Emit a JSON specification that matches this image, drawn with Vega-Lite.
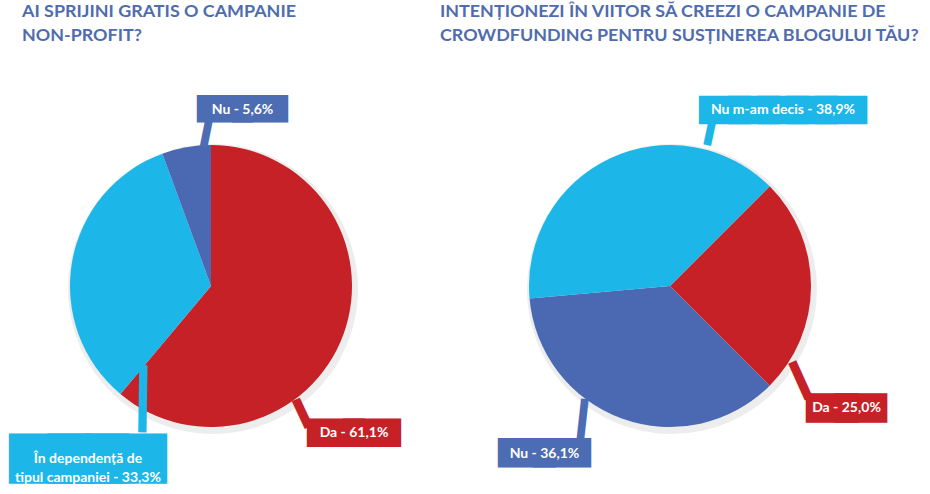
{
  "$schema": "https://vega.github.io/schema/vega-lite/v6.json",
  "background": "white",
  "padding": {"top": 3, "left": 0, "right": 0, "bottom": 0},
  "spacing": 0,
  "config": {"view": {"stroke": null}, "font": "Lato"},
  "resolve": {"scale": {"theta": "independent", "color": "shared"}},
  "hconcat": [
    {
      "width": 422,
      "height": 412,
      "title": {"text": ["AI SPRIJINI GRATIS O CAMPANIE", "NON-PROFIT?"], "anchor": "start", "frame": "group", "dx": 22, "font": "Lato", "fontSize": 17.9, "fontWeight": "bold", "color": "#4F6DAE", "lineHeight": 24, "offset": 35},
      "data": {"values": [
        {"raspuns": "Da", "procent": 61.1, "ord": 1, "eticheta": "Da - 61,1%"},
        {"raspuns": "În dependență de tipul campaniei", "procent": 33.3, "ord": 2, "eticheta": "În dependență de\ntipul campaniei - 33,3%"},
        {"raspuns": "Nu", "procent": 5.6, "ord": 3, "eticheta": "Nu - 5,6%"}
      ]},
      "transform": [{"stack": "procent", "groupby": [], "sort": [{"field": "ord"}], "as": ["v0", "v1"]}],
      "layer": [
        {"mark": {"type": "arc", "outerRadius": 145, "fill": "#000000", "opacity": 0.07, "xOffset": 2, "yOffset": 3},
         "encoding": {"theta": {"field": "v0", "type": "quantitative", "scale": {"domain": [0, 100], "range": [0, 6.2832]}}, "theta2": {"field": "v1"}}},
        {"mark": {"type": "arc", "outerRadius": 141},
         "encoding": {"theta": {"field": "v0", "type": "quantitative", "scale": {"domain": [0, 100], "range": [0, 6.2832]}}, "theta2": {"field": "v1"},
           "color": {"field": "raspuns", "type": "nominal", "legend": null, "scale": {"domain": ["Da", "Nu", "În dependență de tipul campaniei", "Nu m-am decis"], "range": ["#C62127", "#4A69B2", "#1CB6E8", "#1CB6E8"]}}}},
        {"transform": [{"filter": "datum.ord == 3"}],
         "mark": {"type": "text", "text": "—", "font": "DejaVu Sans", "fontSize": 24.6, "strokeWidth": 6.0, "angle": 281.31, "radius": 141, "dx": 28.75, "dy": 38.7, "align": "center", "baseline": "middle", "fill": "#4C6CB4", "stroke": "#4C6CB4", "strokeJoin": "miter"},
         "encoding": {"theta": {"field": "v0", "type": "quantitative"}}},
        {"transform": [{"filter": "datum.ord == 1"}],
         "mark": {"type": "text", "text": "—", "font": "DejaVu Sans", "fontSize": 26.2, "strokeWidth": 6.9, "angle": 64.98, "radius": 141, "dx": 281.8, "dy": 30.0, "align": "center", "baseline": "middle", "fill": "#C62127", "stroke": "#C62127", "strokeJoin": "miter"},
         "encoding": {"theta": {"field": "v0", "type": "quantitative"}}},
        {"transform": [{"filter": "datum.ord == 2"}],
         "mark": {"type": "text", "text": "—", "font": "DejaVu Sans", "fontSize": 70.7, "strokeWidth": 3.3, "angle": 90.77, "radius": 141, "dx": 4.58, "dy": -24.07, "align": "center", "baseline": "middle", "fill": "#1CB6E8", "stroke": "#1CB6E8", "strokeJoin": "miter"},
         "encoding": {"theta": {"field": "v0", "type": "quantitative"}}},
        {"transform": [{"filter": "datum.ord == 3"}],
         "mark": {"type": "text", "text": "——", "font": "DejaVu Sans", "fontSize": 34.9, "strokeWidth": 24.9, "radius": 141, "dx": 80.1, "dy": -45.1, "align": "center", "baseline": "middle", "fill": "#4C6CB4", "stroke": "#4C6CB4", "strokeJoin": "miter"},
         "encoding": {"theta": {"field": "v0", "type": "quantitative"}}},
        {"transform": [{"filter": "datum.ord == 1"}],
         "mark": {"type": "text", "text": "——", "font": "DejaVu Sans", "fontSize": 36.0, "strokeWidth": 25.8, "radius": 141, "dx": 143, "dy": 287, "align": "center", "baseline": "middle", "fill": "#C62127", "stroke": "#C62127", "strokeJoin": "miter"},
         "encoding": {"theta": {"field": "v0", "type": "quantitative"}}},
        {"transform": [{"filter": "datum.ord == 2"}],
         "mark": {"type": "text", "text": "———", "font": "DejaVu Sans", "fontSize": 38.1, "strokeWidth": 47.7, "radius": 141, "dx": -32.5, "dy": 63.9, "align": "center", "baseline": "middle", "fill": "#1CB6E8", "stroke": "#1CB6E8", "strokeJoin": "miter"},
         "encoding": {"theta": {"field": "v0", "type": "quantitative"}}},
        {"transform": [{"filter": "datum.ord == 3"}],
         "mark": {"type": "text", "font": "Lato", "fontSize": 14, "fontWeight": "bold", "color": "white", "radius": 141, "dx": 80.1, "dy": -44.1, "align": "center", "baseline": "middle"},
         "encoding": {"theta": {"field": "v0", "type": "quantitative"}, "text": {"field": "eticheta"}}},
        {"transform": [{"filter": "datum.ord == 1"}],
         "mark": {"type": "text", "font": "Lato", "fontSize": 14, "fontWeight": "bold", "color": "white", "radius": 141, "dx": 143, "dy": 288, "align": "center", "baseline": "middle"},
         "encoding": {"theta": {"field": "v0", "type": "quantitative"}, "text": {"field": "eticheta"}}},
        {"transform": [{"filter": "datum.ord == 2"}],
         "mark": {"type": "text", "font": "Lato", "fontSize": 14, "fontWeight": "bold", "color": "white", "radius": 141, "dx": -32.5, "dy": 65.4, "align": "center", "baseline": "middle", "lineBreak": "\n", "lineHeight": 18.5},
         "encoding": {"theta": {"field": "v0", "type": "quantitative"}, "text": {"field": "eticheta"}}}
      ]
    },
    {
      "width": 496,
      "height": 412,
      "title": {"text": ["INTENȚIONEZI ÎN VIITOR SĂ CREEZI O CAMPANIE DE", "CROWDFUNDING PENTRU SUSȚINEREA BLOGULUI TĂU?"], "anchor": "start", "frame": "group", "dx": 18, "font": "Lato", "fontSize": 17.9, "fontWeight": "bold", "color": "#4F6DAE", "lineHeight": 24, "offset": 35},
      "data": {"values": [
        {"raspuns": "Da", "procent": 25.0, "ord": 1, "eticheta": "Da - 25,0%"},
        {"raspuns": "Nu", "procent": 36.1, "ord": 2, "eticheta": "Nu - 36,1%"},
        {"raspuns": "Nu m-am decis", "procent": 38.9, "ord": 3, "eticheta": "Nu m-am decis - 38,9%"}
      ]},
      "transform": [{"stack": "procent", "groupby": [], "sort": [{"field": "ord"}], "as": ["v0", "v1"]}],
      "layer": [
        {"mark": {"type": "arc", "outerRadius": 145, "fill": "#000000", "opacity": 0.07, "xOffset": 2, "yOffset": 3},
         "encoding": {"theta": {"field": "v0", "type": "quantitative", "scale": {"domain": [0, 100], "range": [0.7854, 7.0686]}}, "theta2": {"field": "v1"}}},
        {"mark": {"type": "arc", "outerRadius": 141},
         "encoding": {"theta": {"field": "v0", "type": "quantitative", "scale": {"domain": [0, 100], "range": [0.7854, 7.0686]}}, "theta2": {"field": "v1"},
           "color": {"field": "raspuns", "type": "nominal", "legend": null}}},
        {"transform": [{"filter": "datum.ord == 3"}],
         "mark": {"type": "text", "text": "—", "font": "DejaVu Sans", "fontSize": 22.4, "strokeWidth": 6.2, "angle": 282.09, "radius": 141, "dx": 200.3, "dy": 140.6, "align": "center", "baseline": "middle", "fill": "#1CB6E8", "stroke": "#1CB6E8", "strokeJoin": "miter"},
         "encoding": {"theta": {"field": "v0", "type": "quantitative"}}},
        {"transform": [{"filter": "datum.ord == 1"}],
         "mark": {"type": "text", "text": "—", "font": "DejaVu Sans", "fontSize": 37.9, "strokeWidth": 6.0, "angle": 65.77, "radius": 141, "dx": 189.5, "dy": 50.9, "align": "center", "baseline": "middle", "fill": "#C62127", "stroke": "#C62127", "strokeJoin": "miter"},
         "encoding": {"theta": {"field": "v0", "type": "quantitative"}}},
        {"transform": [{"filter": "datum.ord == 2"}],
         "mark": {"type": "text", "text": "—", "font": "DejaVu Sans", "fontSize": 40.5, "strokeWidth": 4.8, "angle": 96.34, "radius": 141, "dx": 54.15, "dy": 181.3, "align": "center", "baseline": "middle", "fill": "#4C6CB4", "stroke": "#4C6CB4", "strokeJoin": "miter"},
         "encoding": {"theta": {"field": "v0", "type": "quantitative"}}},
        {"transform": [{"filter": "datum.ord == 3"}],
         "mark": {"type": "text", "text": "—————", "font": "DejaVu Sans", "fontSize": 29.0, "strokeWidth": 26.3, "radius": 141, "dx": 253.45, "dy": -189.39, "align": "center", "baseline": "middle", "fill": "#1CB6E8", "stroke": "#1CB6E8", "strokeJoin": "miter"},
         "encoding": {"theta": {"field": "v0", "type": "quantitative"}}},
        {"transform": [{"filter": "datum.ord == 1"}],
         "mark": {"type": "text", "text": "——", "font": "DejaVu Sans", "fontSize": 28.6, "strokeWidth": 27.3, "radius": 141, "dx": 76.8, "dy": 221.2, "align": "center", "baseline": "middle", "fill": "#C62127", "stroke": "#C62127", "strokeJoin": "miter"},
         "encoding": {"theta": {"field": "v0", "type": "quantitative"}}},
        {"transform": [{"filter": "datum.ord == 2"}],
         "mark": {"type": "text", "text": "——", "font": "DejaVu Sans", "fontSize": 34.9, "strokeWidth": 26.9, "radius": 141, "dx": -225.2, "dy": 66.8, "align": "center", "baseline": "middle", "fill": "#4C6CB4", "stroke": "#4C6CB4", "strokeJoin": "miter"},
         "encoding": {"theta": {"field": "v0", "type": "quantitative"}}},
        {"transform": [{"filter": "datum.ord == 3"}],
         "mark": {"type": "text", "font": "Lato", "fontSize": 14, "fontWeight": "bold", "color": "white", "radius": 141, "dx": 253.45, "dy": -188.4, "align": "center", "baseline": "middle"},
         "encoding": {"theta": {"field": "v0", "type": "quantitative"}, "text": {"field": "eticheta"}}},
        {"transform": [{"filter": "datum.ord == 1"}],
         "mark": {"type": "text", "font": "Lato", "fontSize": 14, "fontWeight": "bold", "color": "white", "radius": 141, "dx": 76.8, "dy": 222.2, "align": "center", "baseline": "middle"},
         "encoding": {"theta": {"field": "v0", "type": "quantitative"}, "text": {"field": "eticheta"}}},
        {"transform": [{"filter": "datum.ord == 2"}],
         "mark": {"type": "text", "font": "Lato", "fontSize": 14, "fontWeight": "bold", "color": "white", "radius": 141, "dx": -225.2, "dy": 67.8, "align": "center", "baseline": "middle"},
         "encoding": {"theta": {"field": "v0", "type": "quantitative"}, "text": {"field": "eticheta"}}}
      ]
    }
  ]
}
